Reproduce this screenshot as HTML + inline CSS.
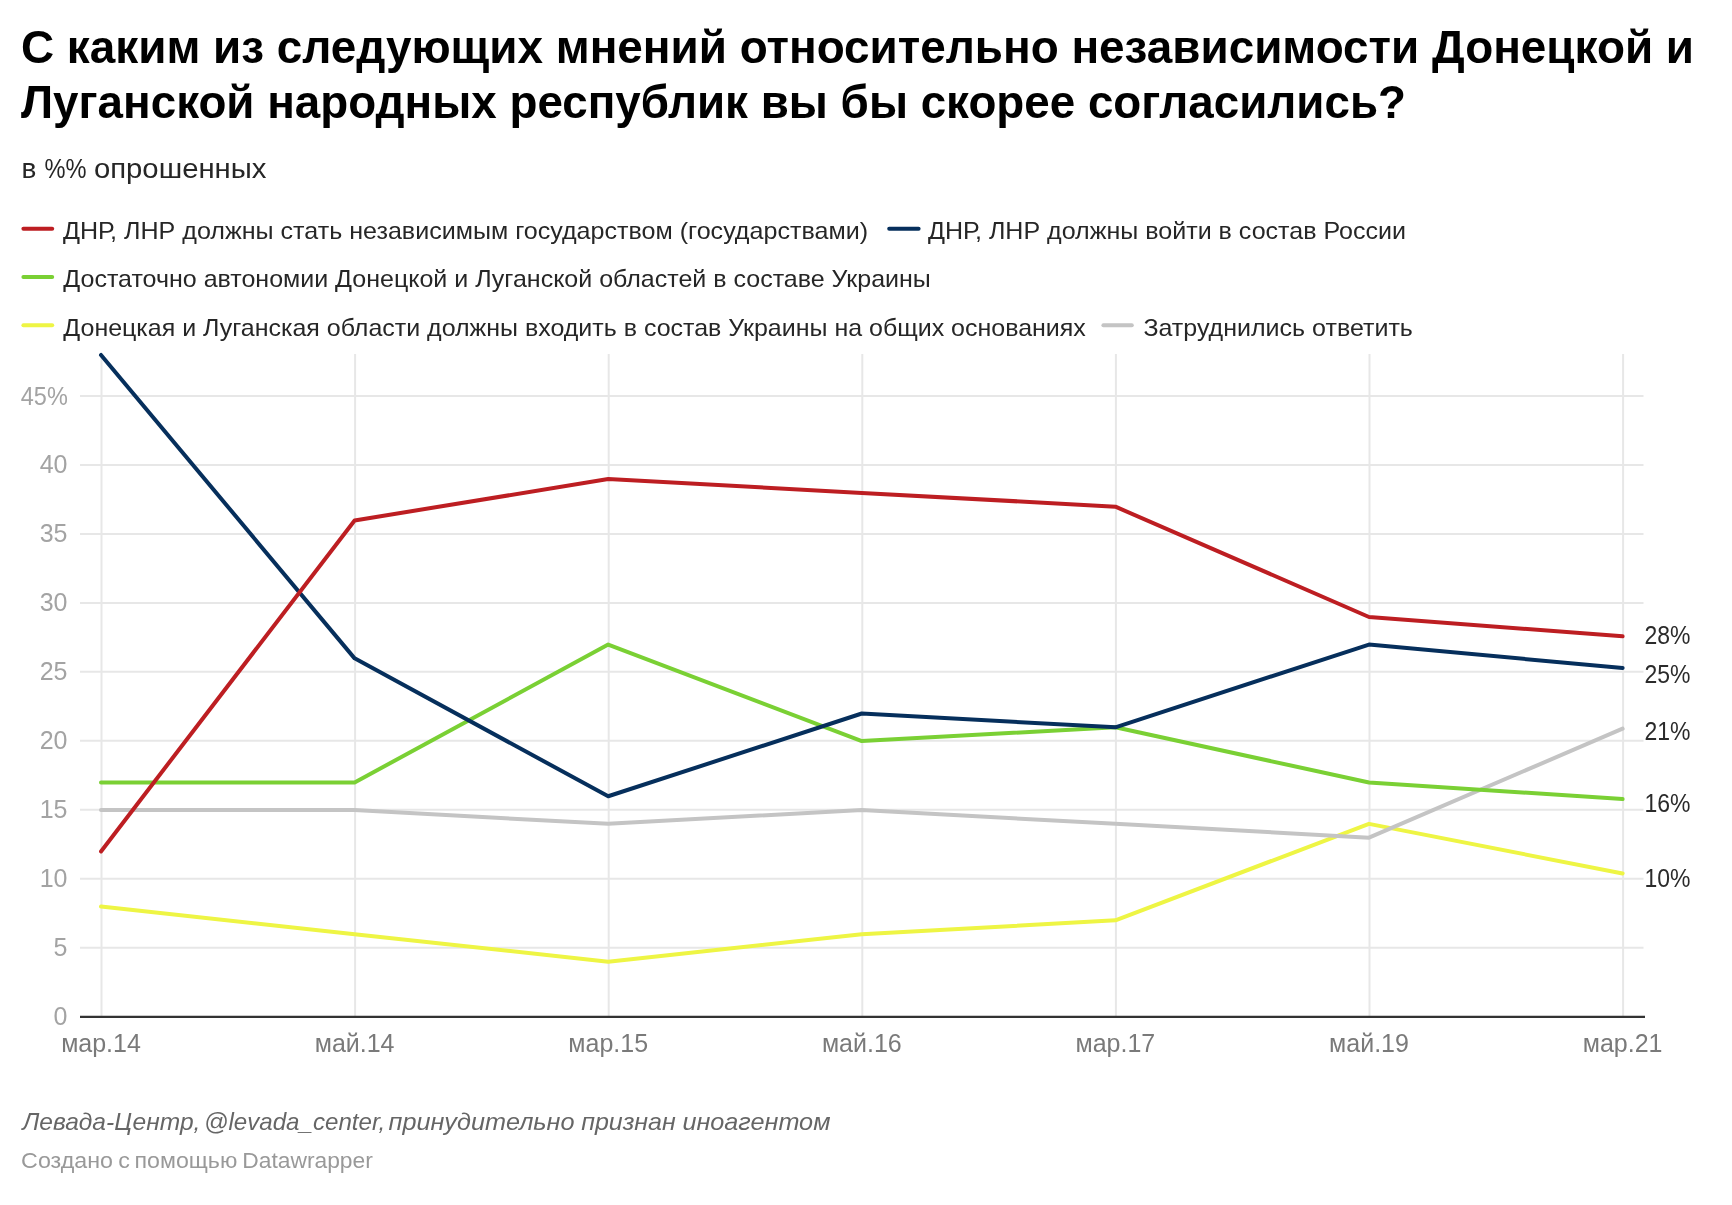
<!DOCTYPE html><html><head><meta charset="utf-8"><style>html,body{margin:0;padding:0;background:#fff;width:1732px;height:1205px;overflow:hidden}svg{display:block;will-change:transform}text{font-family:"Liberation Sans", sans-serif}</style></head><body><svg width="1732" height="1205" viewBox="0 0 1732 1205"><rect width="1732" height="1205" fill="#fff"/><text x="21" y="63" font-size="46" font-weight="bold" fill="#000" textLength="1673" lengthAdjust="spacingAndGlyphs">С каким из следующих мнений относительно независимости Донецкой и</text><text x="21" y="117.7" font-size="46" font-weight="bold" fill="#000" textLength="1385" lengthAdjust="spacingAndGlyphs">Луганской народных республик вы бы скорее согласились?</text><text x="21.4" y="177.7" font-size="28" fill="#262626">в</text><text x="44.5" y="177.7" font-size="28" fill="#262626" textLength="42" lengthAdjust="spacingAndGlyphs">%%</text><text x="93.9" y="177.7" font-size="28" fill="#262626" textLength="172.6" lengthAdjust="spacingAndGlyphs">опрошенных</text><line x1="23.4" y1="228.8" x2="52.2" y2="228.8" stroke="#bd1e22" stroke-width="4" stroke-linecap="round"/><text x="63.0" y="238.8" font-size="24" fill="#262626" textLength="805.0" lengthAdjust="spacingAndGlyphs">ДНР, ЛНР должны стать независимым государством (государствами)</text><line x1="889.2" y1="228.8" x2="918.6" y2="228.8" stroke="#062f5c" stroke-width="4" stroke-linecap="round"/><text x="928.0" y="238.8" font-size="24" fill="#262626" textLength="478.0" lengthAdjust="spacingAndGlyphs">ДНР, ЛНР должны войти в состав России</text><line x1="23.4" y1="277.0" x2="52.2" y2="277.0" stroke="#7ad034" stroke-width="4" stroke-linecap="round"/><text x="63.3" y="287.4" font-size="24" fill="#262626" textLength="867.5" lengthAdjust="spacingAndGlyphs">Достаточно автономии Донецкой и Луганской областей в составе Украины</text><line x1="23.4" y1="325.2" x2="52.2" y2="325.2" stroke="#eef544" stroke-width="4" stroke-linecap="round"/><text x="63.3" y="335.5" font-size="24" fill="#262626" textLength="1022.5" lengthAdjust="spacingAndGlyphs">Донецкая и Луганская области должны входить в состав Украины на общих основаниях</text><line x1="1103.4" y1="325.2" x2="1131.8" y2="325.2" stroke="#c4c4c4" stroke-width="4" stroke-linecap="round"/><text x="1143.4" y="335.5" font-size="24" fill="#262626" textLength="269.5" lengthAdjust="spacingAndGlyphs">Затруднились ответить</text><line x1="80" y1="947.65" x2="1643.5" y2="947.65" stroke="#e7e7e7" stroke-width="2"/><line x1="80" y1="878.70" x2="1643.5" y2="878.70" stroke="#e7e7e7" stroke-width="2"/><line x1="80" y1="809.75" x2="1643.5" y2="809.75" stroke="#e7e7e7" stroke-width="2"/><line x1="80" y1="740.80" x2="1643.5" y2="740.80" stroke="#e7e7e7" stroke-width="2"/><line x1="80" y1="671.85" x2="1643.5" y2="671.85" stroke="#e7e7e7" stroke-width="2"/><line x1="80" y1="602.90" x2="1643.5" y2="602.90" stroke="#e7e7e7" stroke-width="2"/><line x1="80" y1="533.95" x2="1643.5" y2="533.95" stroke="#e7e7e7" stroke-width="2"/><line x1="80" y1="465.00" x2="1643.5" y2="465.00" stroke="#e7e7e7" stroke-width="2"/><line x1="80" y1="396.05" x2="1643.5" y2="396.05" stroke="#e7e7e7" stroke-width="2"/><line x1="101.50" y1="354" x2="101.50" y2="1016" stroke="#e7e7e7" stroke-width="2"/><line x1="355.10" y1="354" x2="355.10" y2="1016" stroke="#e7e7e7" stroke-width="2"/><line x1="608.70" y1="354" x2="608.70" y2="1016" stroke="#e7e7e7" stroke-width="2"/><line x1="862.30" y1="354" x2="862.30" y2="1016" stroke="#e7e7e7" stroke-width="2"/><line x1="1115.90" y1="354" x2="1115.90" y2="1016" stroke="#e7e7e7" stroke-width="2"/><line x1="1369.50" y1="354" x2="1369.50" y2="1016" stroke="#e7e7e7" stroke-width="2"/><line x1="1623.10" y1="354" x2="1623.10" y2="1016" stroke="#e7e7e7" stroke-width="2"/><text x="67.5" y="1025.00" font-size="25" fill="#a3a3a3" text-anchor="end">0</text><text x="67.5" y="956.05" font-size="25" fill="#a3a3a3" text-anchor="end">5</text><text x="67.5" y="887.10" font-size="25" fill="#a3a3a3" text-anchor="end">10</text><text x="67.5" y="818.15" font-size="25" fill="#a3a3a3" text-anchor="end">15</text><text x="67.5" y="749.20" font-size="25" fill="#a3a3a3" text-anchor="end">20</text><text x="67.5" y="680.25" font-size="25" fill="#a3a3a3" text-anchor="end">25</text><text x="67.5" y="611.30" font-size="25" fill="#a3a3a3" text-anchor="end">30</text><text x="67.5" y="542.35" font-size="25" fill="#a3a3a3" text-anchor="end">35</text><text x="67.5" y="473.40" font-size="25" fill="#a3a3a3" text-anchor="end">40</text><text x="67.8" y="404.95" font-size="25" fill="#a3a3a3" text-anchor="end" textLength="47" lengthAdjust="spacingAndGlyphs">45%</text><line x1="80" y1="1016.8" x2="1645" y2="1016.8" stroke="#333" stroke-width="2.2"/><text x="101.00" y="1052" font-size="25" fill="#7a7a7a" text-anchor="middle">мар.14</text><text x="354.60" y="1052" font-size="25" fill="#7a7a7a" text-anchor="middle">май.14</text><text x="608.20" y="1052" font-size="25" fill="#7a7a7a" text-anchor="middle">мар.15</text><text x="861.80" y="1052" font-size="25" fill="#7a7a7a" text-anchor="middle">май.16</text><text x="1115.40" y="1052" font-size="25" fill="#7a7a7a" text-anchor="middle">мар.17</text><text x="1369.00" y="1052" font-size="25" fill="#7a7a7a" text-anchor="middle">май.19</text><text x="1622.60" y="1052" font-size="25" fill="#7a7a7a" text-anchor="middle">мар.21</text><polyline points="101.00,906.58 354.60,934.16 608.20,961.74 861.80,934.16 1115.40,920.37 1369.00,823.84 1622.60,873.48" fill="none" stroke="#eef544" stroke-width="4" stroke-linejoin="round" stroke-linecap="round"/><polyline points="101.00,810.05 354.60,810.05 608.20,823.84 861.80,810.05 1115.40,823.84 1369.00,837.63 1622.60,728.69" fill="none" stroke="#c4c4c4" stroke-width="4" stroke-linejoin="round" stroke-linecap="round"/><polyline points="101.00,782.47 354.60,782.47 608.20,644.57 861.80,741.10 1115.40,727.31 1369.00,782.47 1622.60,799.02" fill="none" stroke="#7ad034" stroke-width="4" stroke-linejoin="round" stroke-linecap="round"/><polyline points="101.00,354.98 354.60,658.36 608.20,796.26 861.80,713.52 1115.40,727.31 1369.00,644.57 1622.60,668.01" fill="none" stroke="#062f5c" stroke-width="4" stroke-linejoin="round" stroke-linecap="round"/><polyline points="101.00,851.42 354.60,520.46 608.20,479.09 861.80,492.88 1115.40,506.67 1369.00,616.99 1622.60,636.30" fill="none" stroke="#bd1e22" stroke-width="4" stroke-linejoin="round" stroke-linecap="round"/><text x="1644.5" y="643.7" font-size="25" fill="#2b2b2b" textLength="46" lengthAdjust="spacingAndGlyphs">28%</text><text x="1644.5" y="683.4" font-size="25" fill="#2b2b2b" textLength="46" lengthAdjust="spacingAndGlyphs">25%</text><text x="1644.5" y="739.8" font-size="25" fill="#2b2b2b" textLength="46" lengthAdjust="spacingAndGlyphs">21%</text><text x="1644.5" y="811.5" font-size="25" fill="#2b2b2b" textLength="46" lengthAdjust="spacingAndGlyphs">16%</text><text x="1644.5" y="886.5" font-size="25" fill="#2b2b2b" textLength="46" lengthAdjust="spacingAndGlyphs">10%</text><text x="22.42" y="1129.80" font-size="24" font-style="italic" font-weight="normal" fill="#666" textLength="177.98" lengthAdjust="spacingAndGlyphs">Левада-Центр,</text><text x="203.99" y="1129.80" font-size="24" font-style="italic" font-weight="normal" fill="#666" textLength="181.31" lengthAdjust="spacingAndGlyphs">@levada_center,</text><text x="388.55" y="1129.80" font-size="24" font-style="italic" font-weight="normal" fill="#666" textLength="185.99" lengthAdjust="spacingAndGlyphs">принудительно</text><text x="581.16" y="1129.80" font-size="24" font-style="italic" font-weight="normal" fill="#666" textLength="94.60" lengthAdjust="spacingAndGlyphs">признан</text><text x="682.45" y="1129.80" font-size="24" font-style="italic" font-weight="normal" fill="#666" textLength="148.00" lengthAdjust="spacingAndGlyphs">иноагентом</text><text x="21.14" y="1167.60" font-size="22" font-style="normal" font-weight="normal" fill="#999" textLength="91.85" lengthAdjust="spacingAndGlyphs">Создано</text><text x="118.30" y="1167.60" font-size="22" font-style="normal" font-weight="normal" fill="#999" textLength="11.66" lengthAdjust="spacingAndGlyphs">с</text><text x="134.50" y="1167.60" font-size="22" font-style="normal" font-weight="normal" fill="#999" textLength="102.80" lengthAdjust="spacingAndGlyphs">помощью</text><text x="242.23" y="1167.60" font-size="22" font-style="normal" font-weight="normal" fill="#999" textLength="130.63" lengthAdjust="spacingAndGlyphs">Datawrapper</text></svg></body></html>
